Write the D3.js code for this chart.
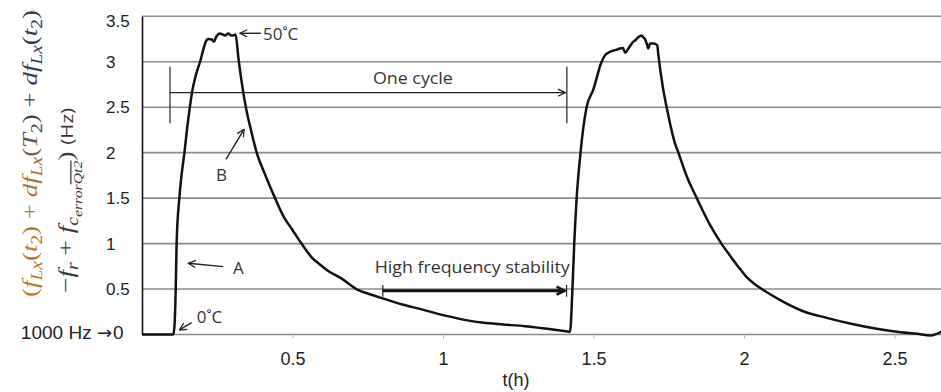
<!DOCTYPE html>
<html>
<head>
<meta charset="utf-8">
<script src="https://d3js.org/d3.v7.min.js"></script>
<style>
  body { margin: 0; background: #fff; }
  svg { display: block; }
  .tick text { font-family: "Liberation Sans", Arial, sans-serif; fill: #222; }
  .note { font-family: "Open Sans", sans-serif; font-size: 17px; fill: #333; }
</style>
</head>
<body>
<svg width="941" height="392"></svg>
<script>
// time in hours
var hours = [0, 0.05, 0.104, 0.108, 0.112, 0.115, 0.124, 0.132, 0.141, 0.15, 0.159, 0.167, 0.175, 0.184,
  0.193, 0.205, 0.215, 0.222,
  0.232, 0.239, 0.246, 0.259, 0.268, 0.276, 0.287, 0.297, 0.303, 0.311, 0.32, 0.33, 0.345, 0.362, 0.381,
  0.41, 0.442, 0.47, 0.5, 0.53, 0.566, 0.591, 0.62, 0.661, 0.715, 0.76, 0.797, 0.865, 0.932, 0.98, 1.041,
  1.09, 1.136, 1.2, 1.272, 1.34, 1.408, 1.422, 1.43, 1.436, 1.444, 1.457, 1.466, 1.477, 1.499, 1.527, 1.538,
  1.555, 1.575, 1.588, 1.598, 1.605, 1.616, 1.625, 1.632, 1.64, 1.649, 1.66, 1.665, 1.671, 1.677, 1.682,
  1.688, 1.699, 1.712, 1.715, 1.732, 1.743, 1.771, 1.782, 1.81, 1.843, 1.888, 1.925, 1.953, 1.987, 2.009,
  2.035, 2.064, 2.131, 2.197, 2.275, 2.352, 2.441, 2.52, 2.575, 2.62, 2.658];
// frequency offset above 1000 Hz
var offsetHz = [0, 0, 0, 0.1, 0.5, 1.0, 1.5, 1.77, 2.0, 2.27, 2.5, 2.68, 2.8, 2.91,
  3.0, 3.15, 3.24, 3.25,
  3.245, 3.22, 3.27, 3.31, 3.30, 3.29, 3.31, 3.29, 3.29, 3.30, 3.05, 2.8, 2.5, 2.25, 2.0,
  1.75, 1.5, 1.3, 1.15, 1.0, 0.84, 0.77, 0.695, 0.62, 0.494, 0.44, 0.40, 0.33, 0.274, 0.23, 0.183,
  0.15, 0.128, 0.11, 0.091, 0.065, 0.036, 0.03, 0.5, 1.0, 1.5, 2.0, 2.27, 2.5, 2.69, 3.0, 3.07,
  3.11, 3.13, 3.146, 3.15, 3.10, 3.146, 3.19, 3.22, 3.24, 3.27, 3.29, 3.27, 3.25, 3.2, 3.146,
  3.2, 3.2, 3.18, 3.09, 2.69, 2.5, 2.10, 2.0, 1.737, 1.5, 1.2, 1.0, 0.87, 0.72, 0.63,
  0.555, 0.49, 0.36, 0.256, 0.183, 0.121, 0.063, 0.025, 0.008, -0.01, 0.036];

var yTicks = [0, 0.5, 1, 1.5, 2, 2.5, 3, 3.5];
var xTicks = [0.5, 1, 1.5, 2, 2.5];

// annotations, in data units
var notes = [
  {text: "50˚C", t: 0.402, v: 3.24},
  {text: "0˚C", t: 0.182, v: 0.13},
  {text: "A", t: 0.302, v: 0.665},
  {text: "B", t: 0.246, v: 1.692},
  {text: "One cycle", t: 0.9, v: 2.752, anchor: "middle", len: 80},
  {text: "High frequency stability", t: 0.773, v: 0.68, len: 195}
];
var pointers = [
  {from: [0.395, 3.313], to: [0.3256, 3.313]},
  {from: [0.165, 0.13], to: [0.124, 0.05]},
  {from: [0.27, 0.746], to: [0.154, 0.783]},
  {from: [0.279, 1.927], to: [0.339, 2.257]},
  {from: [0.093, 2.66], to: [1.406, 2.66]},
  {from: [0.80, 0.482], to: [1.404, 0.482], bold: true}
];
var brackets = [
  {t: 0.093, v0: 2.323, v1: 2.946},
  {t: 1.4115, v0: 2.323, v1: 2.946},
  {t: 0.80, v0: 0.416, v1: 0.545},
  {t: 1.4105, v0: 0.416, v1: 0.545}
];

var svg = d3.select("svg"),
    width = +svg.attr("width"),
    height = +svg.attr("height");

var plotLeft = 142, plotTop = 16.3, plotBottom = 334.5;

var x = d3.scaleLinear().domain([0, 2.66]).range([plotLeft, plotLeft + 2.66 * 301]);
var y = d3.scaleLinear().domain([0, 3.5]).range([plotBottom, plotTop]);

var defs = svg.append("defs");
defs.append("marker")
    .attr("id", "open")
    .attr("viewBox", "0 0 10 10")
    .attr("refX", 9).attr("refY", 5)
    .attr("markerUnits", "userSpaceOnUse")
    .attr("markerWidth", 9).attr("markerHeight", 10)
    .attr("orient", "auto")
  .append("path")
    .attr("d", "M1,1L9,5L1,9")
    .attr("fill", "none").attr("stroke", "#222").attr("stroke-width", 1.4);
defs.append("marker")
    .attr("id", "bold")
    .attr("viewBox", "0 0 10 10")
    .attr("refX", 9).attr("refY", 5)
    .attr("markerUnits", "userSpaceOnUse")
    .attr("markerWidth", 10).attr("markerHeight", 11)
    .attr("orient", "auto")
  .append("path")
    .attr("d", "M1,1L9,5L1,9")
    .attr("fill", "none").attr("stroke", "#111").attr("stroke-width", 2.6);

var grad = defs.append("linearGradient")
    .attr("id", "labelColor")
    .attr("gradientUnits", "userSpaceOnUse")
    .attr("x1", -145).attr("y1", 0).attr("x2", 145).attr("y2", 0);
grad.append("stop").attr("offset", 0).attr("stop-color", "#bf7a2c");
grad.append("stop").attr("offset", 0.42).attr("stop-color", "#a8733a");
grad.append("stop").attr("offset", 0.6).attr("stop-color", "#47414f");
grad.append("stop").attr("offset", 1).attr("stop-color", "#2f3550");

// horizontal grid
svg.append("g").selectAll("line")
  .data(yTicks)
  .enter().append("line")
    .attr("x1", plotLeft).attr("x2", width)
    .attr("y1", function(d) { return y(d); })
    .attr("y2", function(d) { return y(d); })
    .attr("stroke", "#8c8c8c").attr("stroke-width", 1.6);

// x axis
var xAxis = svg.append("g")
    .attr("transform", "translate(0," + plotBottom + ")")
    .call(d3.axisBottom(x).tickValues(xTicks).tickSize(4).tickSizeOuter(0)
      .tickFormat(function(d) { return String(d); }));
xAxis.select(".domain").remove();
xAxis.selectAll(".tick line").attr("stroke", "#b5b5b5");
xAxis.selectAll(".tick text")
    .attr("y", 30.5).attr("dy", null)
    .style("font-size", "18px");

svg.append("text")
    .attr("x", 516).attr("y", 386)
    .attr("text-anchor", "middle")
    .style("font-family", "'Liberation Sans', Arial, sans-serif")
    .style("font-size", "18px").style("fill", "#222")
    .text("t(h)");

// y axis
var yAxis = svg.append("g")
    .attr("transform", "translate(" + plotLeft + ",0)")
    .call(d3.axisLeft(y).tickValues(yTicks).tickSize(0).tickSizeOuter(0)
      .tickFormat(function(d) { return String(d); }));
yAxis.select(".domain").attr("stroke", "#111").attr("stroke-width", 1.6);
yAxis.selectAll(".tick text")
    .attr("text-anchor", "start")
    .attr("x", function(d) { return d === 0 ? -29 : -36; })
    .attr("y", function(d) { return Math.max(y(d), 21) - y(d) + (d === 0 ? -2.5 : 0); })
    .style("font-size", function(d) { return d === 0 ? "19px" : "17px"; });

var hz = svg.append("text")
    .attr("x", 112).attr("y", y(0) + 4)
    .attr("text-anchor", "end")
    .style("font-family", "'Liberation Sans', Arial, sans-serif")
    .style("font-size", "19px").style("fill", "#222");
hz.append("tspan").text("1000 Hz ");
hz.append("tspan").style("font-family", "'DejaVu Sans', sans-serif").style("font-size", "18px").text("→");

// y label (two rotated lines)
function mathText(g, pieces, size) {
  var t = g.append("text").attr("text-anchor", "middle");
  var shift = 0;
  pieces.forEach(function(p) {
    var s = p[1];
    var lvl = (s == "s" || s == "sn") ? 1 : (s == "ss" || s == "so") ? 2 : 0;
    var target = lvl == 0 ? 0 : lvl == 1 ? size * 0.22 : size * 0.42;
    var ts = t.append("tspan").text(p[0]).attr("dy", target - shift);
    shift = target;
    ts.style("font-size", (lvl == 0 ? size : lvl == 1 ? size * 0.72 : size * 0.58) + "px")
      .style("font-style", (s == "n" || s == "sn" || s == "h") ? "normal" : "italic")
      .style("font-family", s == "h" ? "'Open Sans', sans-serif" : "'Liberation Serif', 'DejaVu Serif', serif");
    if (s == "h") ts.style("font-size", (size * 0.75) + "px");
    if (s == "so") ts.style("text-decoration", "overline");
  });
  return t;
}

var line1 = svg.append("g").attr("transform", "translate(37,153.5) rotate(-90)");
mathText(line1, [["(", "n"], ["f", "i"], ["Lx", "s"], ["(", "n"], ["t", "i"], ["2", "sn"], [") + ", "n"],
  ["d", "i"], ["f", "i"], ["Lx", "s"], ["(", "n"], ["T", "i"], ["2", "sn"], [") + ", "n"],
  ["d", "i"], ["f", "i"], ["Lx", "s"], ["(", "n"], ["t", "i"], ["2", "sn"], [")", "n"]], 22)
  .attr("textLength", 287).attr("lengthAdjust", "spacingAndGlyphs")
  .style("fill", "url(#labelColor)");

var line2 = svg.append("g").attr("transform", "translate(73,200.5) rotate(-90)");
mathText(line2, [["−", "n"], ["f", "i"], ["r", "s"], [" + ", "n"], ["f", "i"], ["c", "s"],
  ["error", "ss"], ["Qt2", "so"], [") ", "n"], ["(Hz)", "h"]], 22)
  .attr("textLength", 185).attr("lengthAdjust", "spacingAndGlyphs")
  .style("fill", "#3a3838");

// the curve
var line = d3.line()
    .x(function(d, i) { return x(hours[i]); })
    .y(function(d) { return y(d); })
    .curve(d3.curveMonotoneX);

svg.append("path")
    .datum(offsetHz)
    .attr("d", line)
    .attr("fill", "none")
    .attr("stroke", "#111")
    .attr("stroke-width", 2.5)
    .attr("stroke-linejoin", "round");

// annotations
svg.append("g").selectAll("line")
  .data(brackets)
  .enter().append("line")
    .attr("x1", function(d) { return x(d.t); }).attr("x2", function(d) { return x(d.t); })
    .attr("y1", function(d) { return y(d.v0); }).attr("y2", function(d) { return y(d.v1); })
    .attr("stroke", "#222").attr("stroke-width", 1.2);

svg.append("g").selectAll("line")
  .data(pointers)
  .enter().append("line")
    .attr("x1", function(d) { return x(d.from[0]); }).attr("y1", function(d) { return y(d.from[1]); })
    .attr("x2", function(d) { return x(d.to[0]); }).attr("y2", function(d) { return y(d.to[1]); })
    .attr("stroke", function(d) { return d.bold ? "#111" : "#222"; })
    .attr("stroke-width", function(d) { return d.bold ? 3 : 1.4; })
    .attr("marker-end", function(d) { return d.bold ? "url(#bold)" : "url(#open)"; });

svg.append("g").selectAll("text")
  .data(notes)
  .enter().append("text")
    .attr("class", "note")
    .attr("x", function(d) { return x(d.t); })
    .attr("y", function(d) { return y(d.v); })
    .attr("text-anchor", function(d) { return d.anchor || "start"; })
    .attr("textLength", function(d) { return d.len || null; })
    .attr("lengthAdjust", "spacingAndGlyphs")
    .text(function(d) { return d.text; });
</script>
</body>
</html>
